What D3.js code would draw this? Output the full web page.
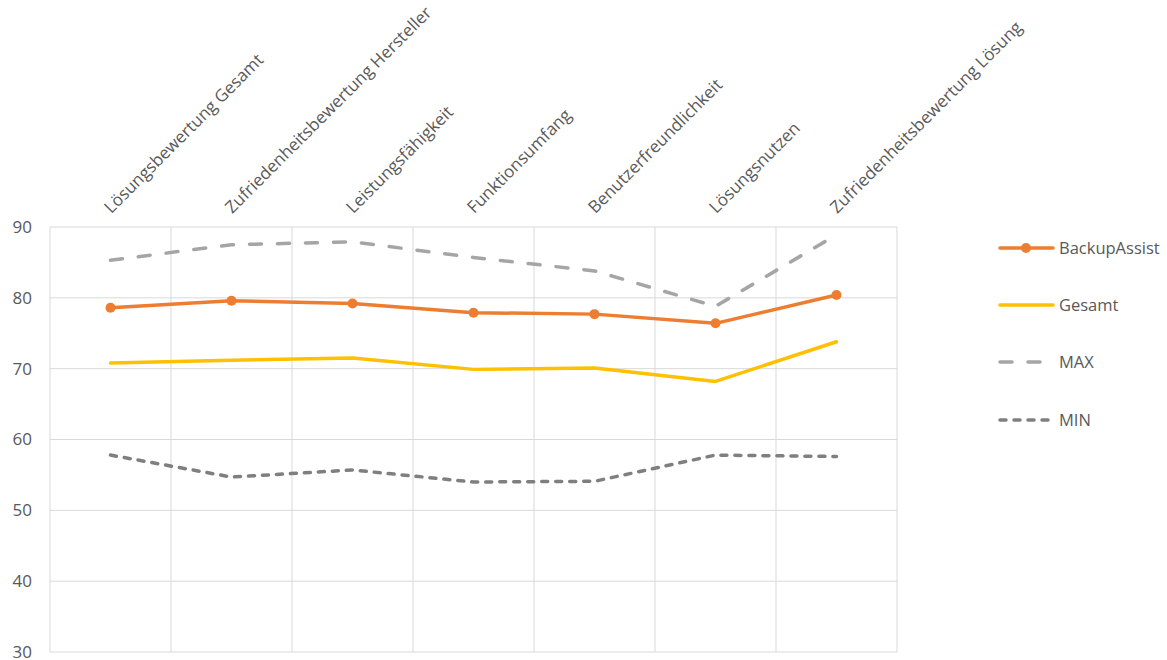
<!DOCTYPE html>
<html>
<head>
<meta charset="utf-8">
<script src="https://cdn.jsdelivr.net/npm/d3@7"></script>
<style>
  html, body { margin: 0; padding: 0; background: #fff; }
  svg { display: block; font-family: "Open Sans", "Noto Sans", sans-serif; }
</style>
</head>
<body>
<svg id="chart" width="1167" height="660"></svg>
<script>
const categories = [
  "Lösungsbewertung Gesamt",
  "Zufriedenheitsbewertung Hersteller",
  "Leistungsfähigkeit",
  "Funktionsumfang",
  "Benutzerfreundlichkeit",
  "Lösungsnutzen",
  "Zufriedenheitsbewertung Lösung"
];
const backupAssist = [78.6, 79.6, 79.2, 77.9, 77.7, 76.4, 80.4];
const gesamt       = [70.8, 71.2, 71.5, 69.9, 70.1, 68.2, 73.8];
const maxValues    = [85.3, 87.5, 87.9, 85.7, 83.8, 78.8, 88.9];
const minValues    = [57.8, 54.7, 55.7, 54.0, 54.1, 57.8, 57.6];
const yTicks = [30, 40, 50, 60, 70, 80, 90];
const seriesNames = ["BackupAssist", "Gesamt", "MAX", "MIN"];

const series = [
  { name: seriesNames[0], values: backupAssist, color: "#ED7D31", dash: null, markers: true },
  { name: seriesNames[1], values: gesamt, color: "#FFC000", dash: null, markers: false },
  { name: seriesNames[2], values: maxValues, color: "#A5A5A5", dash: "12,16", markers: false },
  { name: seriesNames[3], values: minValues, color: "#7F7F7F", dash: "6,8", markers: false }
];

const svg = d3.select("#chart");
const plot = { left: 50, right: 897, top: 227, bottom: 652 };

const x = d3.scaleBand().domain(categories).range([plot.left, plot.right]).padding(0);
const y = d3.scaleLinear().domain([30, 90]).range([plot.bottom, plot.top]);

// horizontal gridlines
svg.append("g").selectAll("line").data(yTicks).join("line")
  .attr("x1", plot.left).attr("x2", plot.right)
  .attr("y1", d => y(d)).attr("y2", d => y(d))
  .attr("stroke", "#D9D9D9").attr("stroke-width", 1);

// vertical gridlines at band edges
const edges = categories.map(c => x(c)).concat([plot.right]);
svg.append("g").selectAll("line").data(edges).join("line")
  .attr("x1", d => d).attr("x2", d => d)
  .attr("y1", plot.top).attr("y2", plot.bottom)
  .attr("stroke", "#D9D9D9").attr("stroke-width", 1);

// y axis labels
const yAxis = d3.axisLeft(y).tickValues(yTicks).tickSize(0).tickPadding(18);
const gy = svg.append("g").attr("transform", `translate(${plot.left},0)`).call(yAxis);
gy.select(".domain").remove();
gy.selectAll("text").attr("fill", "#595959").style("font-size", "17px")
  .style("font-family", "'Open Sans', sans-serif");

// category labels at top, rotated
const xAxis = d3.axisTop(x).tickSize(0).tickPadding(0);
const gx = svg.append("g").attr("transform", `translate(0,${plot.top - 12})`).call(xAxis);
gx.select(".domain").remove();
gx.selectAll("text")
  .attr("fill", "#595959").style("font-size", "17px")
  .style("font-family", "'Open Sans', sans-serif")
  .attr("text-anchor", "start")
  .attr("dy", 0).attr("y", 0).attr("x", 1)
  .attr("transform", "rotate(-45)");

const cx = c => x(c) + x.bandwidth() / 2;
const line = d3.line().x((d, i) => cx(categories[i])).y(d => y(d));

series.forEach(s => {
  svg.append("path").datum(s.values)
    .attr("d", line)
    .attr("fill", "none")
    .attr("stroke", s.color)
    .attr("stroke-width", 3.5)
    .attr("stroke-linecap", "round")
    .attr("stroke-linejoin", "round")
    .attr("stroke-dasharray", s.dash);
  if (s.markers) {
    svg.append("g").selectAll("circle").data(s.values).join("circle")
      .attr("cx", (d, i) => cx(categories[i]))
      .attr("cy", d => y(d))
      .attr("r", 5)
      .attr("fill", s.color);
  }
});

// legend
const legendY = [248, 305, 362, 420];
const lg = svg.append("g");
series.forEach((s, i) => {
  const g = lg.append("g").attr("transform", `translate(998,${legendY[i]})`);
  g.append("line").attr("x1", 2).attr("x2", 55).attr("y1", 0).attr("y2", 0)
    .attr("stroke", s.color).attr("stroke-width", 3.5)
    .attr("stroke-linecap", "round")
    .attr("stroke-dasharray", s.dash);
  if (s.markers) g.append("circle").attr("cx", 28).attr("cy", 0).attr("r", 5).attr("fill", s.color);
  g.append("text").attr("x", 61).attr("y", 0).attr("dy", "0.35em")
    .attr("fill", "#595959").style("font-size", "16.5px").text(s.name);
});
</script>
</body>
</html>
